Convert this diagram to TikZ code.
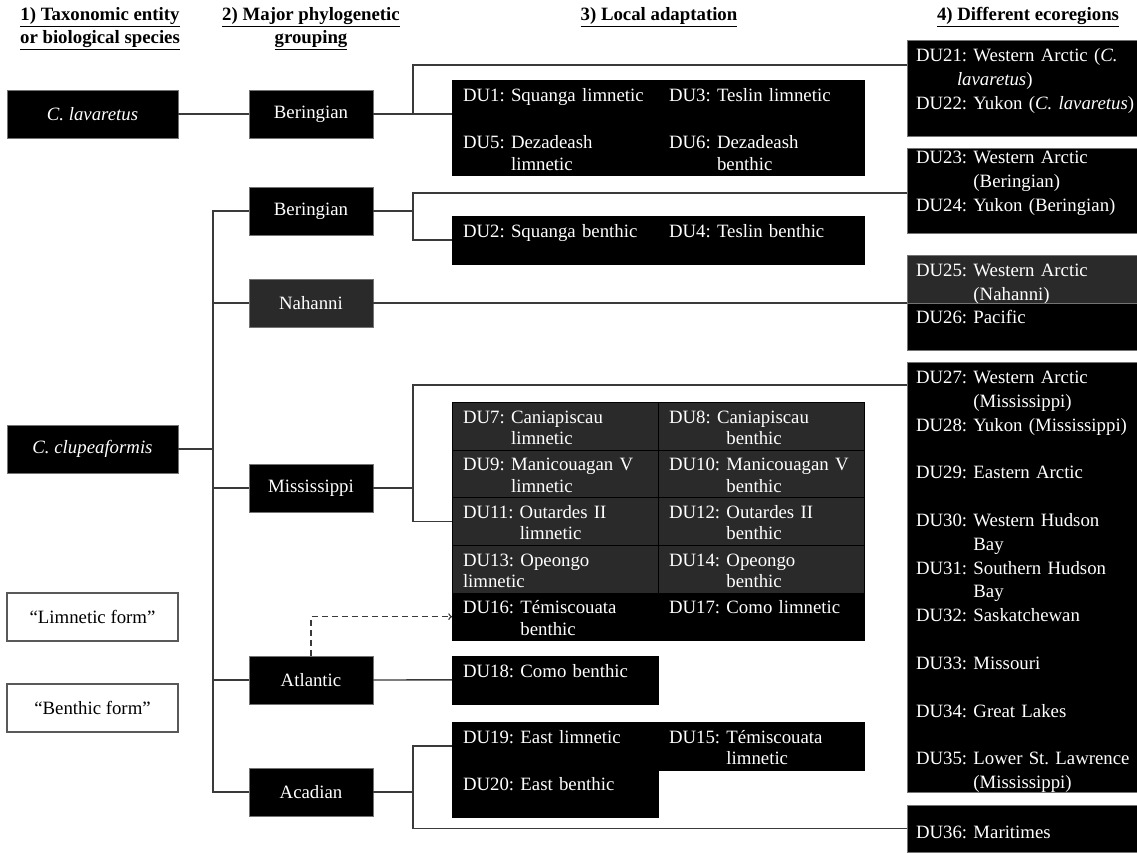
\documentclass[tikz,border=0pt]{standalone}
\usepackage{fontspec}
\setmainfont{Liberation Serif}
\usetikzlibrary{positioning}

\definecolor{dkgray}{HTML}{2A2A2A}
\definecolor{linkgray}{HTML}{3A3A3A}

\newcommand{\duind}[1]{\phantom{#1}}

\tikzset{
  head/.style={font=\fontsize{18.8}{23}\selectfont\bfseries, align=center},
  taxbox/.style={fill=black, draw=black!55, text=white, minimum width=171pt, minimum height=48pt},
  grpbox/.style={fill=black, draw=black!55, text=white, minimum width=124pt, minimum height=48pt},
  formbox/.style={draw=black!65, line width=1.2pt, minimum width=171pt, minimum height=48pt},
  cell/.style={fill=black, draw=black, text=white, anchor=north west, outer sep=0pt,
    inner xsep=11pt, inner ysep=0pt, text width=184pt, align=left,
    text height=21pt, text depth=26.7pt},
  eco/.style={fill=black, draw=black!55, text=white, anchor=north west, outer sep=0pt,
    inner xsep=9pt, inner ysep=0pt, text width=212pt, align=left,
    font=\fontsize{18.8}{23.85}\selectfont},
  link/.style={draw=linkgray, line width=1.4pt},
}

\begin{document}
\frenchspacing
\begin{tikzpicture}[x=1pt, y=-1pt, font=\fontsize{18.8}{21.5}\selectfont]

  \path[use as bounding box, fill=white] (0,0) rectangle (1137,852);

  % Headers
  \node[head] (h1) at (100,28.5) {\underline{1) Taxonomic entity}\\\underline{or biological species}};
  \node[head] (h2) at (311,28.5) {\underline{2) Major phylogenetic}\\\underline{grouping}};
  \node[head] (h3) at (659,17) {\underline{3) Local adaptation}};
  \node[head] (h4) at (1028,17) {\underline{4) Different ecoregions}};

  % Species and forms
  \node[taxbox] (clav) at (92.5,114) {\textit{C. lavaretus}};
  \node[taxbox] (clup) at (92.5,449) {\textit{C. clupeaformis}};
  \node[formbox] (limn) at (92.5,617) {“Limnetic form”};
  \node[formbox] (bent) at (92.5,708) {“Benthic form”};

  % Groupings
  \node[grpbox] (beri1) at (311,114) {Beringian};
  \node[grpbox] (beri2) at (311,211) {Beringian};
  \node[grpbox, fill=dkgray] (naha) at (311,303) {Nahanni};
  \node[grpbox] (miss) at (311,488) {Mississippi};
  \node[grpbox] (atla) at (311,680) {Atlantic};
  \node[grpbox] (acad) at (311,792) {Acadian};

  % Local adaptation
  \node[cell] (du1) at (452,80) {DU1: Squanga limnetic};
  \node[cell] (du3) at (du1.north east) {DU3: Teslin limnetic};
  \node[cell] (du5) at (du1.south west) {DU5: Dezadeash\\\duind{DU5: }limnetic};
  \node[cell] (du6) at (du5.north east) {DU6: Dezadeash\\\duind{DU6: }benthic};

  \node[cell] (du2) at (452,216) {DU2: Squanga benthic};
  \node[cell] (du4) at (du2.north east) {DU4: Teslin benthic};

  \node[cell, fill=dkgray] (du7) at (452,402) {DU7: Caniapiscau\\\duind{DU7: }limnetic};
  \node[cell, fill=dkgray] (du8) at (du7.north east) {DU8: Caniapiscau\\\duind{DU10: }benthic};
  \node[cell, fill=dkgray] (du9) at (du7.south west) {DU9: Manicouagan V\\\duind{DU9: }limnetic};
  \node[cell, fill=dkgray] (du10) at (du9.north east) {DU10: Manicouagan V\\\duind{DU10: }benthic};
  \node[cell, fill=dkgray] (du11) at (du9.south west) {DU11: Outardes II\\\duind{DU11: }limnetic};
  \node[cell, fill=dkgray] (du12) at (du11.north east) {DU12: Outardes II\\\duind{DU12: }benthic};
  \node[cell, fill=dkgray] (du13) at (du11.south west) {DU13: Opeongo\\limnetic};
  \node[cell, fill=dkgray] (du14) at (du13.north east) {DU14: Opeongo\\\duind{DU14: }benthic};
  \node[cell] (du16) at (du13.south west) {DU16: Témiscouata\\\duind{DU16: }benthic};
  \node[cell] (du17) at (du16.north east) {DU17: Como limnetic};

  \node[cell] (du18) at (452,656) {DU18: Como benthic};

  \node[cell] (du19) at (452,722) {DU19: East limnetic};
  \node[cell] (du15) at (du19.north east) {DU15: Témiscouata\\\duind{DU15: }limnetic};
  \node[cell] (du20) at (du19.south west) {DU20: East benthic};

  % Ecoregions
  \node[eco, text height=21.3pt, text depth=74.7pt] (eco1) at (907,40)
    {DU21: Western Arctic (\textit{C.}\\\hspace*{41pt}\textit{lavaretus})\\\mbox{DU22: Yukon (\textit{C. lavaretus})}};
  \node[eco, text height=15.3pt, text depth=69.7pt] (eco2) at (907,148)
    {DU23: Western Arctic\\\duind{DU23: }(Beringian)\\DU24: Yukon (Beringian)};
  \node[eco, fill=dkgray, text height=21.3pt, text depth=26.7pt] (eco25) at (907,255)
    {DU25: Western Arctic\\\duind{DU25: }(Nahanni)};
  \node[eco, text height=20.3pt, text depth=26.7pt] (eco26) at (eco25.south west)
    {DU26: Pacific};
  \node[eco, text height=21.3pt, text depth=408.7pt] (eco3) at (907,362)
    {DU27: Western Arctic\\\duind{DU27: }(Mississippi)\\
     \mbox{DU28: Yukon (Mississippi)}\\[23.85pt]
     DU29: Eastern Arctic\\[23.85pt]
     DU30: Western Hudson\\\duind{DU30: }Bay\\
     DU31: Southern Hudson\\\duind{DU31: }Bay\\
     DU32: Saskatchewan\\[23.85pt]
     DU33: Missouri\\[23.85pt]
     DU34: Great Lakes\\[23.85pt]
     \mbox{DU35: Lower St. Lawrence}\\\duind{DU35: }(Mississippi)};
  \node[eco, text height=33.3pt, text depth=13.7pt] (eco4) at (907,805) {DU36: Maritimes};

  % Links
  \coordinate (trunk) at (213,0);
  \coordinate (fork) at (413,0);
  \coordinate (b1top) at (413,65);
  \coordinate (b2top) at (413,193);
  \coordinate (m1top) at (413,385);

  \draw[link] (clav) -- (beri1);
  \draw[link] (clup.east) -- (clup.east -| trunk);
  \draw[link] (beri2.west) -| (trunk |- acad.west) -- (acad.west);
  \foreach \g in {naha,miss,atla}
    \draw[link] (\g.west) -- (\g.west -| trunk);

  \draw[link] (beri1.east) -- (beri1.east -| fork);
  \draw[link] (b1top -| eco1.west) -- (b1top) |- (du1.west |- beri1.east);
  \draw[link] (beri2.east) -- (beri2.east -| fork);
  \draw[link] (b2top -| eco2.west) -- (b2top) |- (du2.west);
  \draw[link] (naha.east) -- (naha.east -| eco26.west);
  \draw[link] (miss.east) -- (miss.east -| fork);
  \draw[link] (m1top -| eco3.west) -- (m1top) |- (du11.west);
  \draw[link] (atla.east) -- (du18.west);
  \draw[link] (acad.east) -- (acad.east -| fork);
  \draw[link] (du19.west) -- (du19.west -| fork) |- (eco4.west);
  \draw[link, dash pattern=on 6pt off 4pt, ->] (atla.north) |- (du16.west);

\end{tikzpicture}
\end{document}
